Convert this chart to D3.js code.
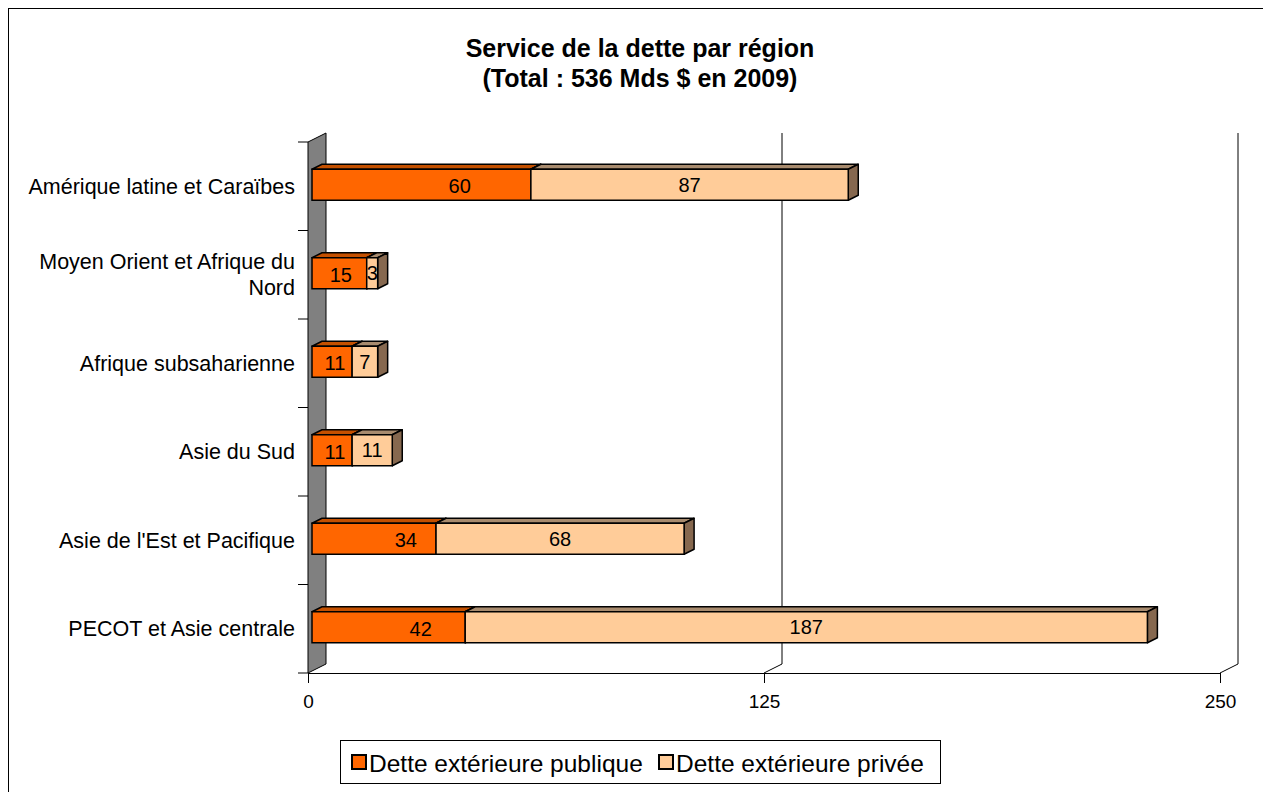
<!DOCTYPE html>
<html><head><meta charset="utf-8">
<script src="https://cdn.jsdelivr.net/npm/d3@7"></script>
<style>body{margin:0;background:#fff}svg{display:block;font-family:"Liberation Sans",Arial,sans-serif}</style>
</head><body>
<script>
const categories = ["Amérique latine et Caraïbes","Moyen Orient et Afrique du Nord","Afrique subsaharienne","Asie du Sud","Asie de l'Est et Pacifique","PECOT et Asie centrale"];
const categoryLines = [["Amérique latine et Caraïbes"],["Moyen Orient et Afrique du","Nord"],["Afrique subsaharienne"],["Asie du Sud"],["Asie de l'Est et Pacifique"],["PECOT et Asie centrale"]];
const publicDebt = [60,15,11,11,34,42];
const privateDebt = [87,3,7,11,68,187];
const publicLabelAt = [40.5,7.9,6.3,6.3,25.7,29.8];
const seriesNames = ["Dette extérieure publique","Dette extérieure privée"];
const xTicks = [0,125,250];
const titleLines = ["Service de la dette par région","(Total : 536 Mds $ en 2009)"];

const W=1263,H=792;
const svg=d3.select("body").append("svg").attr("width",W).attr("height",H);
svg.append("rect").attr("x",8.5).attr("y",8.5).attr("width",W+20).attr("height",H+20).attr("fill","#fff").attr("stroke","#000").attr("stroke-width",1);

const x=d3.scaleLinear().domain([0,250]).range([308,1220]);
const y=d3.scaleBand().domain(categories).range([142,673]);
const DX=18, DY=-9;          // wall depth
const OX=4, OY=-1.5;         // bar front offset
const BX=10, BY=-5;          // bar depth
const barH=31;
const colors=["#FF6600","#FFCC99"], tops=["#C45000","#A88B6E"], sides=["#A04000","#86684F"];

// title
svg.append("g").selectAll("text").data(titleLines).join("text")
 .attr("x",640).attr("y",(d,i)=>57+i*30).attr("text-anchor","middle")
 .attr("font-size",25).attr("font-weight","bold").text(d=>d);

// wall
const top0=y.range()[0], bot0=y.range()[1];
svg.append("path").attr("d",`M${x(0)},${top0}L${x(0)+DX},${top0+DY}L${x(0)+DX},${bot0+DY}L${x(0)},${bot0}Z`)
 .attr("fill","#808080").attr("stroke","#000").attr("stroke-width",1);

// gridlines (back plane) + diagonals on floor
xTicks.filter(t=>t>0).forEach(t=>{
  svg.append("path").attr("d",`M${x(t)+DX},${top0+DY}L${x(t)+DX},${bot0+DY}L${x(t)},${bot0}`)
   .attr("fill","none").attr("stroke","#000").attr("stroke-width",1);
});

// bottom axis
const gx=svg.append("g").attr("transform",`translate(0,${bot0})`)
 .call(d3.axisBottom(x).tickValues(xTicks).tickSize(10).tickSizeOuter(0).tickFormat(d3.format("d")));
gx.select(".domain").attr("stroke","#000");
gx.selectAll(".tick text").attr("font-size",19).attr("font-family","Liberation Sans, Arial, sans-serif").attr("fill","#000").attr("dy","1.15em");
gx.selectAll(".tick line").attr("stroke","#000");

// left axis ticks (band boundaries)
const bounds=categories.map(c=>y(c)).concat([bot0]);
svg.append("g").selectAll("line").data(bounds).join("line")
 .attr("x1",x(0)-10).attr("x2",x(0)).attr("y1",d=>d).attr("y2",d=>d).attr("stroke","#000");

// category labels
categories.forEach((c,i)=>{
  const lines=categoryLines[i], cy=y(c)+y.bandwidth()/2, lh=26;
  svg.append("g").selectAll("text").data(lines).join("text")
   .attr("x",295).attr("y",(d,j)=>cy+(j-(lines.length-1)/2)*lh).attr("dy","0.35em")
   .attr("text-anchor","end").attr("font-size",21.5).text(d=>d);
});

// bars
const g=svg.append("g");
categories.forEach((c,i)=>{
  const yt=y(c)+y.bandwidth()/2-barH/2+OY, yb=yt+barH;
  const segs=[[0,publicDebt[i]],[publicDebt[i],publicDebt[i]+privateDebt[i]]];
  segs.forEach((s,k)=>{
    const x0=x(s[0])+OX, x1=x(s[1])+OX;
    g.append("path").attr("d",`M${x0},${yt}L${x0+BX},${yt+BY}L${x1+BX},${yt+BY}L${x1},${yt}Z`)
     .attr("fill",tops[k]).attr("stroke","#000").attr("stroke-width",1.5).attr("stroke-linejoin","round");
    g.append("path").attr("d",`M${x1},${yt}L${x1+BX},${yt+BY}L${x1+BX},${yb+BY}L${x1},${yb}Z`)
     .attr("fill",sides[k]).attr("stroke","#000").attr("stroke-width",1.5).attr("stroke-linejoin","round");
    g.append("rect").attr("x",x0).attr("y",yt).attr("width",x1-x0).attr("height",barH)
     .attr("fill",colors[k]).attr("stroke","#000").attr("stroke-width",1.5);
  });
  const cy=yt+barH/2;
  g.append("text").attr("x",x(publicLabelAt[i])+OX).attr("y",cy+1.5).attr("dy","0.35em").attr("text-anchor","middle")
   .attr("font-size",20).text(publicDebt[i]);
  g.append("text").attr("x",(x(publicDebt[i])+x(publicDebt[i]+privateDebt[i]))/2+OX).attr("y",cy).attr("dy","0.35em").attr("text-anchor","middle")
   .attr("font-size",20).text(privateDebt[i]);
});

// legend
const lg=svg.append("g");
lg.append("rect").attr("x",340.5).attr("y",740.5).attr("width",600).attr("height",43).attr("fill","#fff").attr("stroke","#000");
const lx=[350,657];
seriesNames.forEach((n,k)=>{
  lg.append("rect").attr("x",lx[k]+2).attr("y",755).attr("width",14).attr("height",14).attr("fill",colors[k]).attr("stroke","#000").attr("stroke-width",2);
  lg.append("text").attr("x",lx[k]+19).attr("y",763).attr("dy","0.35em").attr("font-size",24.5).text(n);
});
</script>
</body></html>
